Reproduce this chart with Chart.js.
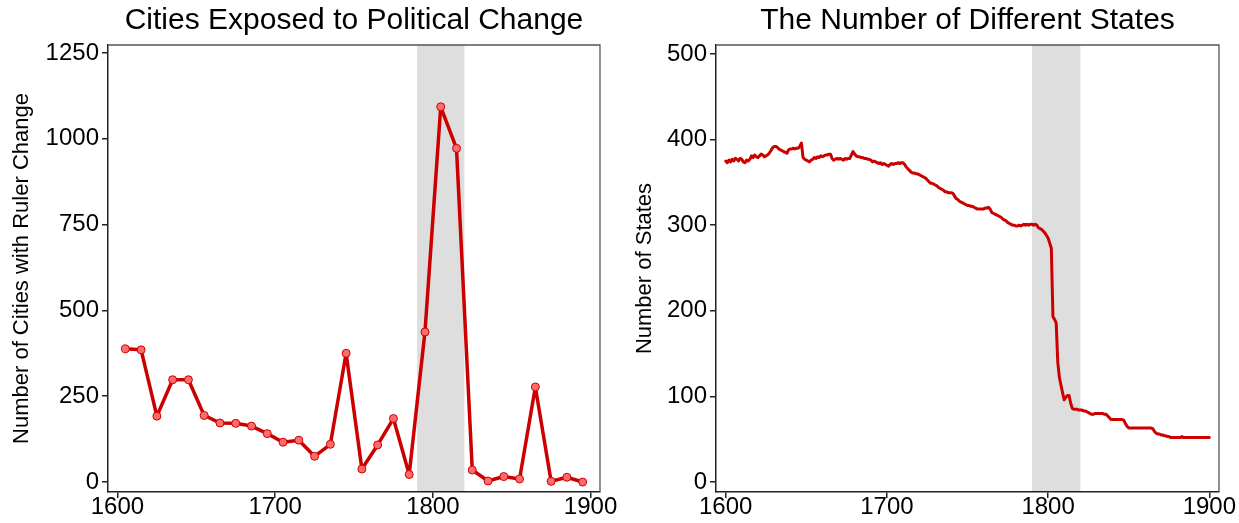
<!DOCTYPE html>
<html>
<head>
<meta charset="utf-8">
<script src="https://cdn.jsdelivr.net/npm/chart.js@4"></script>
<style>
    body { margin: 0; background: #fff; }
    canvas { position: absolute; top: 0; }
    #cities { left: 0; }
    #states { left: 620px; }
</style>
</head>
<body>
<canvas id="cities" width="620" height="523"></canvas>
<canvas id="states" width="619" height="523"></canvas>
<script>
// rulers changing per decade (plotted at mid-decade)
var cityYears = [1605, 1615, 1625, 1635, 1645, 1655, 1665, 1675, 1685, 1695,
    1705, 1715, 1725, 1735, 1745, 1755, 1765, 1775, 1785, 1795,
    1805, 1815, 1825, 1835, 1845, 1855, 1865, 1875, 1885, 1895];
var cityChanges = [388, 385, 192, 298, 298, 194, 172, 171, 163, 141,
    116, 122, 75, 110, 375, 38, 108, 185, 22, 437,
    1093, 972, 35, 3, 16, 9, 277, 2, 14, 0];

// number of independent states, one value per year from 1600
var stateFirstYear = 1600;
var stateCounts = [
    375, 373, 376, 374, 377, 375, 378, 377, 375, 378,
    377, 374, 373, 376, 375, 377, 381, 379, 382, 380,
    379, 381, 383, 382, 380, 381, 382, 384, 387, 390,
    392, 392, 391, 389, 388, 387, 386, 385, 384, 388,
    389, 389, 390, 389, 390, 390, 392, 396, 379, 377,
    376, 375, 374, 376, 377, 379, 378, 380, 379, 381,
    380, 381, 382, 382, 383, 383, 378, 376, 377, 378,
    377, 378, 377, 376, 378, 377, 378, 378, 382, 386,
    383, 381, 380, 380, 379, 379, 378, 378, 377, 377,
    376, 374, 375, 374, 373, 372, 373, 371, 372, 371,
    370, 369, 371, 372, 371, 372, 372, 373, 372, 373,
    373, 371, 368, 366, 364, 362, 361, 361, 360, 360,
    359, 358, 357, 356, 355, 353, 351, 349, 349, 348,
    347, 346, 344, 343, 342, 341, 339, 339, 338, 338,
    338, 337, 334, 331, 330, 328, 327, 326, 325, 324,
    323, 323, 322, 322, 321, 320, 319, 319, 319, 319,
    319, 320, 320, 321, 319, 315, 314, 313, 312, 311,
    310, 309, 307, 306, 305, 303, 302, 301, 300, 300,
    299, 299, 300, 299, 300, 301, 300, 301, 300, 301,
    301, 300, 301, 300, 297, 296, 295, 293, 291, 288,
    285, 279, 273, 193, 190, 186, 140, 122, 113, 104,
    96, 99, 101, 101, 92, 86, 85, 85, 85, 84,
    84, 84, 83, 83, 82, 81, 80, 79, 79, 80,
    80, 80, 80, 80, 80, 79, 79, 77, 75, 73,
    73, 73, 73, 73, 73, 73, 73, 72, 68, 65,
    63, 63, 63, 63, 63, 63, 63, 63, 63, 63,
    63, 63, 63, 63, 63, 62, 59, 57, 56, 56,
    55, 55, 54, 54, 53, 53, 52, 52, 52, 52,
    52, 52, 52, 53, 52, 52, 52, 52, 52, 52,
    52, 52, 52, 52, 52, 52, 52, 52, 52, 52,
    52
];

var yearTicks = [1600, 1700, 1800, 1900];
var cityTicks = [0, 250, 500, 750, 1000, 1250];
var stateTicks = [0, 100, 200, 300, 400, 500];
var shadeFrom = 1790;
var shadeTo = 1820;

var FONT = "'Liberation Sans', Arial, Helvetica, sans-serif";
var RED = "#cc0000";

// grey band behind the data plus the top/right box lines
var shadePlugin = {
    id: "shade",
    beforeDraw: function (chart) {
        var ctx = chart.ctx;
        var area = chart.chartArea;
        var x = chart.scales.x;
        var x0 = x.getPixelForValue(shadeFrom);
        var x1 = x.getPixelForValue(shadeTo);
        ctx.save();
        ctx.fillStyle = "#dedede";
        ctx.fillRect(x0, area.top, x1 - x0, area.bottom - area.top);
        ctx.restore();
    },
    beforeDatasetsDraw: function (chart) {
        var ctx = chart.ctx;
        var area = chart.chartArea;
        ctx.save();
        ctx.strokeStyle = "#555";
        ctx.lineWidth = 1.3;
        ctx.beginPath();
        ctx.moveTo(area.left, area.top);
        ctx.lineTo(area.right, area.top);
        ctx.lineTo(area.right, area.bottom);
        ctx.stroke();
        ctx.restore();
    },
};

// plain numbers, no thousands separator
function plain(value) {
    return String(value);
}

function makeOptions(title, yTitle, yMin, yMax, yTicks, yWidth, yTitlePad) {
    return {
        responsive: false,
        animation: false,
        devicePixelRatio: 1,
        layout: { padding: { left: 0, right: 20, top: 0, bottom: 0 } },
        plugins: {
            legend: { display: false },
            tooltip: { enabled: false },
            title: {
                display: true,
                text: title,
                color: "#000",
                fullSize: false,
                font: { family: FONT, size: 30, weight: "normal" },
                padding: { top: 3, bottom: 6 },
            },
        },
        scales: {
            x: {
                type: "linear",
                min: 1594,
                max: 1906,
                afterBuildTicks: function (axis) {
                    axis.ticks = yearTicks.map((v) => ({ value: v }));
                },
                afterFit: function (axis) {
                    axis.height = 31;
                },
                border: { color: "#222", width: 1.5 },
                grid: { drawOnChartArea: false, color: "#222", lineWidth: 1.5, tickLength: 6 },
                ticks: {
                    color: "#000",
                    padding: -3,
                    maxRotation: 0,
                    callback: plain,
                    font: { family: FONT, size: 24, lineHeight: 1 },
                },
            },
            y: {
                min: yMin,
                max: yMax,
                afterBuildTicks: function (axis) {
                    axis.ticks = yTicks.map((v) => ({ value: v }));
                },
                afterFit: function (axis) {
                    axis.width = yWidth;
                },
                border: { color: "#222", width: 1.5 },
                grid: { drawOnChartArea: false, color: "#222", lineWidth: 1.5, tickLength: 6 },
                ticks: {
                    color: "#000",
                    padding: 3,
                    callback: plain,
                    font: { family: FONT, size: 24 },
                },
                title: {
                    display: true,
                    text: yTitle,
                    color: "#000",
                    font: { family: FONT, size: 22 },
                    padding: { top: yTitlePad, bottom: 0 },
                },
            },
        },
    };
}

new Chart(document.getElementById("cities").getContext("2d"), {
    type: "line",
    data: {
        datasets: [
            {
                data: cityYears.map((yr, i) => ({ x: yr, y: cityChanges[i] })),
                borderColor: RED,
                borderWidth: 3.5,
                borderJoinStyle: "round",
                borderCapStyle: "round",
                pointRadius: 4,
                pointBorderWidth: 1,
                pointBackgroundColor: "#ff6b6b",
                pointBorderColor: RED,
                tension: 0,
            },
        ],
    },
    options: makeOptions("Cities Exposed to Political Change",
        "Number of Cities with Ruler Change", -29, 1273, cityTicks, 108, 9),
    plugins: [shadePlugin],
});

new Chart(document.getElementById("states").getContext("2d"), {
    type: "line",
    data: {
        datasets: [
            {
                data: stateCounts.map((n, i) => ({ x: stateFirstYear + i, y: n })),
                borderColor: RED,
                borderWidth: 3,
                borderJoinStyle: "round",
                borderCapStyle: "round",
                pointRadius: 0,
                tension: 0,
            },
        ],
    },
    options: makeOptions("The Number of Different States",
        "Number of States", -11.7, 510.5, stateTicks, 96, 12),
    plugins: [shadePlugin],
});
</script>
</body>
</html>
